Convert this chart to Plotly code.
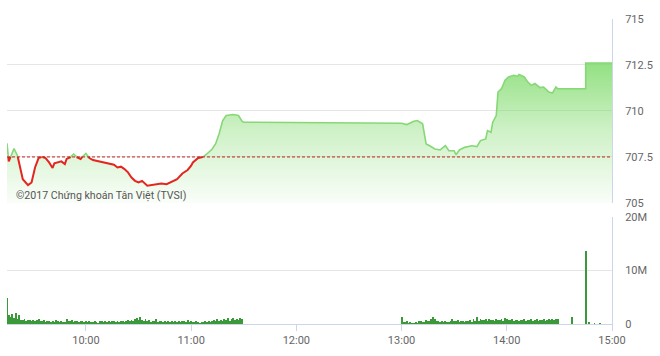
import pandas as pd
import plotly.graph_objects as go

DAY = "2017-06-01 "
ref_value = 707.5

price_times = [
    "09:15", "09:16", "09:19", "09:21", "09:22", "09:24", "09:27", "09:29", "09:31", "09:33",
    "09:35", "09:37", "09:39", "09:41", "09:42", "09:44", "09:46", "09:48", "09:49", "09:51",
    "09:53", "09:55", "09:57", "09:59", "10:00", "10:02", "10:04", "10:07", "10:10", "10:13",
    "10:16", "10:18", "10:20", "10:22", "10:24", "10:26", "10:28", "10:30", "10:32", "10:35",
    "10:38", "10:40", "10:43", "10:46", "10:49", "10:52", "10:55", "10:58", "11:00", "11:01",
    "11:04", "11:07", "11:09", "11:12", "11:14", "11:16", "11:18", "11:20", "11:24", "11:27",
    "11:29", "11:30",
    "13:00", "13:03", "13:07", "13:09", "13:12", "13:14", "13:16", "13:19", "13:22", "13:25",
    "13:27", "13:30", "13:31", "13:33", "13:36", "13:40", "13:43", "13:45", "13:48", "13:49",
    "13:51", "13:52", "13:54", "13:55", "13:57", "13:59", "14:01", "14:04", "14:06", "14:07",
    "14:10", "14:12", "14:14", "14:16", "14:19", "14:21", "14:24", "14:26", "14:28", "14:29",
    "14:30", "14:45", "14:45", "15:00",
]
price_values = [
    708.24, 707.26, 707.95, 707.57, 707.11, 706.29, 705.97, 706.11, 706.93, 707.44,
    707.51, 707.44, 707.20, 706.90, 707.15, 707.20, 707.26, 707.11, 707.39, 707.48,
    707.66, 707.48, 707.39, 707.62, 707.69, 707.44, 707.33, 707.26, 707.20, 707.11,
    707.08, 706.93, 706.97, 706.84, 706.66, 706.38, 706.20, 706.11, 706.20, 705.93,
    705.97, 706.02, 706.05, 706.02, 706.16, 706.29, 706.60, 706.79, 707.02, 707.20,
    707.44, 707.51, 707.66, 707.93, 708.22, 708.77, 709.48, 709.75, 709.81, 709.75,
    709.44, 709.39,
    709.33, 709.26, 709.44, 709.48, 709.30, 708.21, 708.11, 707.93, 707.88, 708.11,
    707.84, 707.84, 707.62, 707.88, 708.02, 708.11, 708.06, 708.39, 708.48, 708.93,
    708.84, 709.39, 709.75, 711.03, 711.21, 711.67, 711.85, 711.94, 711.89, 711.99,
    711.85, 711.57, 711.39, 711.49, 711.27, 711.30, 711.03, 710.97, 711.30, 711.21,
    711.21, 711.21, 712.61, 712.61,
]

# volume in millions, one value per minute
vol_morning_start = "09:15"
vol_morning = [
    4.8, 1.6, 1.3, 1.9, 1.1, 2.0, 1.0, 1.6, 0.8, 0.7, 0.9, 0.6, 0.8, 0.7, 0.6,
    0.8, 0.5, 0.7, 0.9, 0.6, 0.5, 0.7, 0.4, 0.6, 0.5, 0.3, 0.6, 0.4, 0.7, 0.5,
    0.3, 0.6, 0.4, 0.3, 1.0, 0.6, 0.5, 0.8, 0.4, 0.5, 0.6, 0.3, 0.5, 0.6, 0.4,
    0.6, 0.3, 0.5, 0.4, 0.3, 0.5, 0.4, 0.2, 0.5, 0.6, 0.3, 0.5, 0.4, 0.6, 0.3,
    0.5, 0.6, 0.4, 0.5, 0.3, 0.6, 0.5, 0.4, 0.6, 0.7, 0.5, 0.8, 0.6, 0.9, 1.1,
    0.7, 1.3, 0.8, 0.6, 0.9, 0.5, 0.7, 0.4, 0.6, 0.5, 0.9, 0.4, 0.6, 0.5, 0.3,
    0.5, 0.4, 0.6, 0.3, 0.5, 0.4, 0.6, 0.3, 0.5, 0.4, 0.6, 0.5, 0.3, 0.7, 0.4,
    0.5, 0.3, 0.4, 0.6, 0.3, 0.2, 0.4, 0.3, 0.5, 0.4, 0.6, 0.3, 0.5, 0.7, 0.6,
    0.9, 0.5, 0.8, 0.6, 1.0, 0.7, 1.1, 0.6, 0.9, 1.2, 0.8, 1.0, 0.7, 1.1, 0.9,
]
vol_afternoon_start = "13:00"
vol_afternoon = [
    1.3, 0.4, 0.3, 0.5, 0.2, 0.3, 0.2, 0.1, 0.3, 0.2, 0.6, 0.5, 0.4, 0.3, 0.7,
    0.5, 0.6, 1.0, 1.3, 0.9, 0.6, 0.5, 0.4, 0.5, 0.3, 0.6, 0.4, 0.3, 0.5, 1.0,
    0.6, 0.5, 0.7, 0.4, 0.6, 0.5, 0.3, 0.6, 0.5, 0.8, 0.4, 0.9, 0.6, 1.4, 0.5,
    1.0, 0.8, 0.7, 0.9, 0.6, 0.9, 0.7, 0.8, 0.6, 0.9, 0.7, 0.8, 0.9, 0.6, 1.2,
    1.0, 0.8, 0.7, 0.9, 0.6, 0.8, 0.7, 0.5, 0.8, 0.7, 0.9, 0.6, 0.8, 0.7, 0.9,
    0.6, 0.8, 0.9, 0.5, 0.8, 0.7, 0.9, 0.6, 0.8, 1.0, 0.7, 0.9, 0.8, 1.0, 0.9,
]
vol_late_times = ["14:37", "14:45", "14:47", "14:50", "14:53"]
vol_late_values = [1.4, 13.6, 0.4, 0.2, 0.2]

x_start, x_end = "09:15", "15:00"
price_ticks = [705, 707.5, 710, 712.5, 715]
price_tick_text = ["705", "707.5", "710", "712.5", "715"]
vol_ticks = [0, 10, 20]
vol_tick_text = ["0", "10M", "20M"]
watermark = "©2017 Chứng khoán Tân Việt (TVSI)"

# ---- derived series ----
t = pd.to_datetime([DAY + s for s in price_times])
xs, ys = [], []
for i in range(len(t)):
    if i > 0:
        y0, y1 = price_values[i - 1], price_values[i]
        if (y0 - ref_value) * (y1 - ref_value) < 0:
            f = (ref_value - y0) / (y1 - y0)
            xs.append(t[i - 1] + (t[i] - t[i - 1]) * f)
            ys.append(ref_value)
    xs.append(t[i])
    ys.append(price_values[i])
green = [y if y >= ref_value else None for y in ys]
red = [y if y <= ref_value else None for y in ys]

vt = list(pd.date_range(DAY + vol_morning_start, periods=len(vol_morning), freq="min"))
vt += list(pd.date_range(DAY + vol_afternoon_start, periods=len(vol_afternoon), freq="min"))
vt += list(pd.to_datetime([DAY + s for s in vol_late_times]))
vv = vol_morning + vol_afternoon + vol_late_values

FONT = "Roboto, 'Open Sans', sans-serif"
GRID = "#e6e6e6"
AXL = "#ccd6eb"

fig = go.Figure()
fig.add_trace(go.Scatter(
    x=xs, y=ys, mode="lines", line=dict(width=0), fill="tozeroy",
    fillgradient=dict(type="vertical",
                      colorscale=[[0, "rgba(125,218,105,0.04)"], [0.5, "rgba(125,218,105,0.38)"],
                                  [1, "rgba(125,218,105,0.88)"]],
                      start=705, stop=713),
    hoverinfo="skip", showlegend=False, xaxis="x", yaxis="y"))
fig.add_trace(go.Scatter(x=xs, y=green, mode="lines", line=dict(color="#86d877", width=1.6),
                         showlegend=False, xaxis="x", yaxis="y"))
fig.add_trace(go.Scatter(x=xs, y=red, mode="lines", line=dict(color="#e3261f", width=2),
                         showlegend=False, xaxis="x", yaxis="y"))
fig.add_trace(go.Bar(x=vt, y=vv, marker=dict(color="#3a9a3a", line=dict(width=0)),
                     width=32000, showlegend=False, xaxis="x2", yaxis="y2"))

fig.add_shape(type="line", xref="x domain", x0=0, x1=1, yref="y", y0=ref_value, y1=ref_value,
              line=dict(color="#c0241c", width=1, dash="3px,2px"), layer="above")

fig.add_annotation(text=watermark, xref="paper", x=0.012, yref="y", y=705.38,
                   xanchor="left", yanchor="middle", showarrow=False,
                   font=dict(family=FONT, size=10.6, color="#555555"))

xr = [DAY + x_start, DAY + x_end]
fig.update_layout(
    width=660, height=356, margin=dict(l=7, r=48, t=19, b=32),
    paper_bgcolor="white", plot_bgcolor="white",
    font=dict(family=FONT, size=11, color="#666666"),
    bargap=0,
    xaxis=dict(domain=[0, 1], anchor="y", range=xr, type="date", showticklabels=False,
               showgrid=False, zeroline=False, matches="x2"),
    yaxis=dict(domain=[0.397, 1], side="right", range=[705, 715], tickvals=price_ticks,
               ticktext=price_tick_text, gridcolor=GRID, showline=True, linecolor=AXL,
               zeroline=False, ticks="", ticklabelstandoff=10),
    xaxis2=dict(domain=[0, 1], anchor="y2", range=xr, type="date", tickformat="%H:%M",
                dtick=3600000, tick0=DAY + "10:00", showgrid=False, showline=True,
                linecolor=AXL, ticks="outside", ticklen=6, tickcolor=AXL, zeroline=False),
    yaxis2=dict(domain=[0, 0.351], side="right", range=[0, 20], tickvals=vol_ticks,
                ticktext=vol_tick_text, gridcolor=GRID, showline=True, linecolor=AXL,
                zeroline=False, ticks="", ticklabelstandoff=10),
)

fig.write_html("out.html")
